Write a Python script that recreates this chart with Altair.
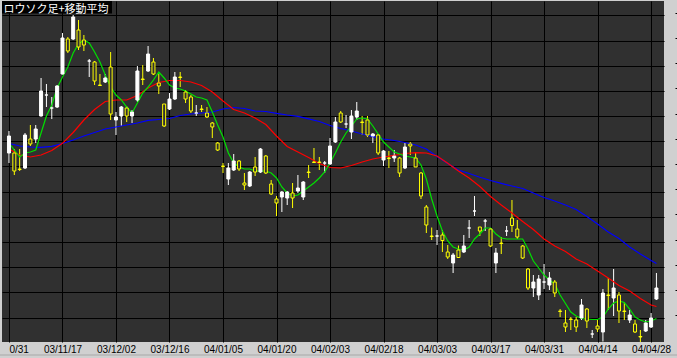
import altair as alt
import pandas as pd

# ---------------- data ----------------
open_ = [1189, 1189, 1173, 1174, 1203, 1203, 1226, 1247, 1234, 1235,
         1268, 1303, 1303, 1312, 1302, 1281, 1280, 1257, 1260, 1275,
         1222, 1226, 1234, 1226, 1242, 1263, 1271, 1280, 1259, 1238,
         1233, 1243, 1265, 1250, 1245, 1229, 1233, 1229, 1219, 1199,
         1176, 1163, 1172, 1181, 1159, 1156, 1175, 1170, 1186, 1158,
         1143, 1145, 1144, 1149, 1151, 1145, 1170, 1180, 1180, 1179,
         1178, 1200, 1229, 1218, 1210, 1225, 1220, 1222, 1206, 1207,
         1182, 1184, 1184, 1184, 1174, 1198, 1184, 1169, 1135, 1106,
         1106, 1107, 1090, 1079, 1092, 1090, 1114, 1131, 1115, 1121,
         1113, 1079, 1099, 1111, 1124, 1113, 1096, 1073, 1054, 1047,
         1060, 1057, 1060, 1031, 1019, 1023, 1022, 1024, 1033, 1008,
         1016, 1010, 1047, 1044, 1047, 1031, 1022, 1018, 1005.5, 1011,
         1015, 1043]
high = [1211, 1193, 1193, 1209, 1217, 1217, 1264, 1258, 1245, 1257,
        1309, 1305, 1327, 1322, 1307, 1283, 1281, 1268, 1268, 1290,
        1230, 1236, 1236, 1232, 1276, 1277, 1296, 1284, 1269, 1238,
        1249, 1270, 1270, 1252, 1247, 1237, 1237, 1235, 1220, 1200,
        1179, 1179, 1188, 1182, 1169, 1171, 1185, 1194, 1187, 1162,
        1146, 1151, 1151, 1159, 1167, 1161, 1177, 1194, 1185, 1181,
        1204, 1225, 1231, 1227, 1232, 1240, 1226, 1226, 1209, 1208,
        1192, 1191, 1192, 1185, 1199, 1200, 1190, 1170, 1137, 1114.5,
        1112, 1112, 1097, 1089, 1096.5, 1107, 1122, 1146, 1115, 1123,
        1114, 1094, 1105, 1116, 1142, 1122, 1097, 1074, 1067, 1067,
        1078, 1070, 1062, 1033, 1032, 1025, 1025, 1043, 1034, 1012,
        1022, 1053, 1064, 1073, 1050, 1040, 1032, 1022, 1012, 1022,
        1029, 1069]
low = [1179, 1167, 1171, 1173, 1196, 1199, 1225.5, 1235, 1223, 1234,
       1267.5, 1289, 1302, 1292, 1291, 1265, 1257, 1256, 1259, 1222,
       1207, 1216, 1220, 1219, 1240, 1257, 1270, 1267, 1248, 1215,
       1232, 1242, 1255, 1239, 1229, 1226, 1230, 1224, 1204, 1191,
       1169, 1157, 1171, 1171, 1152, 1155, 1166, 1169, 1168, 1147,
       1126, 1130, 1137, 1134, 1149, 1142, 1164, 1179, 1172, 1169,
       1177, 1199, 1219, 1214, 1203, 1222, 1207, 1205, 1199, 1187,
       1176, 1174, 1180, 1165, 1173, 1187, 1175, 1143, 1109, 1102,
       1097, 1090, 1083, 1069, 1084, 1089, 1104, 1126, 1106, 1111,
       1095, 1069, 1088, 1106, 1110, 1103, 1083, 1052, 1045, 1042,
       1053, 1052, 1045, 1025, 1010, 1012, 1010, 1022, 1014, 1004,
       1010, 1000.5, 1032, 1026, 1019, 1022, 1019, 1009, 1000, 1010,
       1014, 1042]
close = [1206, 1171, 1172.5, 1207, 1198, 1213, 1251, 1247, 1234, 1256,
         1304, 1291, 1325, 1295, 1297, 1281, 1261, 1256.5, 1264, 1228,
         1225, 1235, 1226, 1230, 1271, 1262.5, 1288, 1268, 1256, 1216,
         1243, 1265, 1264.5, 1243, 1231, 1229, 1232.5, 1225, 1215, 1192,
         1175.5, 1174, 1181, 1173, 1157, 1170, 1170, 1193, 1169, 1148,
         1139, 1150, 1150, 1144, 1154, 1160, 1169.5, 1179.5, 1179.5, 1179,
         1196, 1220, 1220, 1218, 1226, 1231, 1219.5, 1207, 1208, 1189,
         1191, 1183.5, 1186, 1169, 1195, 1196, 1175, 1146, 1117, 1105.5,
         1106, 1101.5, 1085, 1087, 1084.5, 1096, 1114, 1131, 1111, 1121,
         1096, 1089, 1098.5, 1111, 1116.5, 1105, 1084, 1054, 1060, 1063,
         1060, 1064, 1049, 1030.5, 1015, 1022.5, 1015, 1037, 1021, 1008,
         1013, 1049, 1046.5, 1054, 1031, 1030.5, 1027, 1010, 1005, 1019,
         1024, 1054]

ma_short = [1199, 1192, 1185, 1189, 1190, 1192, 1209, 1226, 1237, 1254,
            1265, 1275, 1289, 1298, 1302, 1299, 1290, 1280, 1267, 1255,
            1247, 1242, 1235, 1229, 1239, 1249, 1255, 1262, 1270, 1264,
            1257, 1254, 1253, 1251, 1248, 1245, 1244, 1242, 1230, 1217,
            1205, 1189, 1179, 1175, 1173, 1173, 1171, 1171, 1171, 1169,
            1164, 1155, 1149, 1146, 1147, 1151, 1155, 1159, 1164, 1170,
            1179, 1189, 1200, 1209, 1216, 1223, 1224, 1223, 1216, 1208,
            1200, 1195, 1190, 1188, 1186, 1185, 1184, 1177, 1163, 1143,
            1126, 1111, 1101, 1095, 1093, 1092, 1095, 1103, 1108, 1114,
            1114, 1108, 1104, 1103, 1103, 1103, 1103, 1093, 1081, 1074,
            1067, 1062, 1058, 1047, 1038.5, 1030, 1026, 1023.5, 1023, 1022.5,
            1022.5, 1025, 1033, 1039, 1041, 1039.5, 1033, 1025, 1022, 1020,
            1021, 1023.5]

ma_idx = [0, 2, 4, 6, 8, 10, 12, 14, 16, 18, 20, 22, 24, 26, 28, 30, 32, 34,
          36, 38, 40, 42, 44, 46, 48, 50, 52, 54, 56, 58, 60, 62, 64, 66, 68,
          70, 72, 74, 76, 78, 80, 82, 84, 86, 88, 90, 92, 94, 96, 98, 100,
          102, 104, 106, 108, 110, 112, 114, 116, 118, 120, 121]
ma_mid = [1193, 1187, 1185, 1187, 1191.5, 1198.7, 1209.5, 1222, 1232.5, 1240.5,
          1242, 1242, 1246.5, 1254, 1259.5, 1261.5, 1261.5, 1260, 1256.5, 1250,
          1241, 1232.5, 1229, 1224, 1217.5, 1206, 1195.5, 1190, 1184.5, 1178.5,
          1174.5, 1174, 1176.5, 1180, 1183, 1185, 1186.7, 1188.5, 1189.3, 1189,
          1186, 1178.7, 1171, 1164, 1155.5, 1145.5, 1137, 1129, 1120.5, 1112.5,
          1103, 1096, 1090.5, 1083, 1078, 1071, 1064, 1056.5, 1051, 1043.5,
          1037, 1035.5]
ma_long = [1198.5, 1196, 1195, 1194.7, 1195.7, 1198.5, 1202, 1206, 1209.5, 1213,
           1215, 1217, 1219, 1221.7, 1222.5, 1223.5, 1226.5, 1228, 1229, 1230,
           1233, 1234.5, 1233.5, 1231, 1230.5, 1228.7, 1227, 1225.7, 1223.2, 1220.5,
           1216.5, 1213.5, 1211, 1208, 1205.3, 1203, 1201.5, 1199.5, 1197, 1193,
           1185.5, 1178.5, 1172, 1168.5, 1164.7, 1161.5, 1158.7, 1156, 1153.5, 1149,
           1144.5, 1141, 1137, 1132.5, 1125.5, 1118, 1110, 1103.5, 1095, 1088,
           1081.5, 1078.5]

label_idx = [0, 10, 20, 30, 40, 50, 60, 70, 80, 90, 100, 110, 120]
label_text = ["0/31", "03/11/17", "03/12/02", "03/12/16", "04/01/05", "04/01/20",
              "04/02/03", "04/02/18", "04/03/03", "04/03/17", "04/03/31",
              "04/04/14", "04/04/28"]
grid_vals = [1024.5, 1049.7, 1074.9, 1100.0, 1125.2, 1150.4, 1175.6, 1200.8,
             1225.9, 1251.1, 1276.3, 1301.5, 1326.7]
tick_vals = [1027, 1052.2, 1077.4, 1102.5, 1127.7, 1152.9, 1178.1, 1203.3,
             1228.4, 1253.6, 1278.8, 1304, 1329.2]
title_text = "ロウソク足+移動平均"

# ---------------- tables ----------------
n = len(close)
candles = pd.DataFrame({"i": list(range(n)), "open": open_, "high": high,
                        "low": low, "close": close})
short_df = pd.DataFrame({"i": list(range(n)), "v": ma_short})
mid_df = pd.DataFrame({"i": ma_idx, "v": ma_mid})
long_df = pd.DataFrame({"i": ma_idx, "v": ma_long})

BG = "#303030"
x_scale = alt.Scale(domain=[-0.368, 121.48], nice=False, zero=False)
y_scale = alt.Scale(domain=[1000, 1341], nice=False, zero=False)

expr = "''"
for k, t in zip(reversed(label_idx), reversed(label_text)):
    expr = f"datum.value == {k} ? '{t}' : ({expr})"

x_axis = alt.Axis(values=label_idx, labelExpr=expr, grid=True, gridColor="#000000",
                  gridWidth=1, gridOpacity=1, ticks=False, domain=False,
                  labelFont="Liberation Sans", labelFontSize=10, labelColor="#000000",
                  labelPadding=2, labelFlush=False, labelOverlap=False, labelBound=False,
                  labelAlign={"condition": {"test": "datum.value == 0", "value": "left"},
                              "value": "center"},
                  title=None)
y_grid_axis = alt.Axis(orient="left", values=grid_vals, grid=True, gridColor="#000000",
                       gridWidth=1, gridOpacity=1, ticks=False, labels=False,
                       domain=False, title=None)
y_tick_axis = alt.Axis(orient="right", values=tick_vals, grid=False, ticks=True,
                       tickSize=2, tickColor="#000000", tickWidth=1, offset=11,
                       labels=False, domain=False, title=None)

up = "datum.close >= datum.open"
X = alt.X("i:Q", scale=x_scale, axis=x_axis)

wicks = alt.Chart(candles).mark_rule(strokeWidth=1).encode(
    x=X,
    y=alt.Y("low:Q", scale=y_scale, axis=y_grid_axis),
    y2="high:Q",
    color=alt.condition(up, alt.value("#ffffff"), alt.value("#ffff00")),
)

bodies = alt.Chart(candles).mark_bar(size=3, strokeWidth=1).encode(
    x=X,
    y=alt.Y("open:Q", scale=y_scale, axis=y_tick_axis),
    y2="close:Q",
    fill=alt.condition(up, alt.value("#ffffff"), alt.value(BG)),
    stroke=alt.condition(up, alt.value("#ffffff"), alt.value("#ffff00")),
)

def ma_line(df, color):
    return alt.Chart(df).mark_line(strokeWidth=1.2, color=color).encode(
        x=X,
        y=alt.Y("v:Q", scale=y_scale, axis=None),
    )

lines = alt.layer(ma_line(long_df, "#0000ff"), ma_line(mid_df, "#ff0000"),
                  ma_line(short_df, "#00e000"))

title_df = pd.DataFrame({"t": [title_text]})
title_box = alt.Chart(title_df).mark_rect(color="#000000").encode(
    x=alt.value(0), x2=alt.value(110), y=alt.value(0), y2=alt.value(12.5))
title_txt = alt.Chart(title_df).mark_text(
    align="left", baseline="alphabetic", font="Noto Sans CJK JP", fontSize=11,
    color="#ffffff").encode(x=alt.value(1.5), y=alt.value(12), text="t:N")
bottom_line = alt.Chart(title_df).mark_rule(color="#a8a8a8", strokeWidth=1).encode(
    x=alt.value(-2), x2=alt.value(675), y=alt.value(354))

chart = alt.layer(
    wicks, lines, bodies, title_box, title_txt, bottom_line
).resolve_axis(y="independent").properties(
    width=662, height=341,
    padding={"left": 2, "top": 1, "right": 13, "bottom": 16},
    autosize=alt.AutoSizeParams(type="none"),
    background="#d0d0d0",
).configure_view(fill=BG, stroke=None)

chart.save("out.html", embed_options={"renderer": "svg", "actions": False})
